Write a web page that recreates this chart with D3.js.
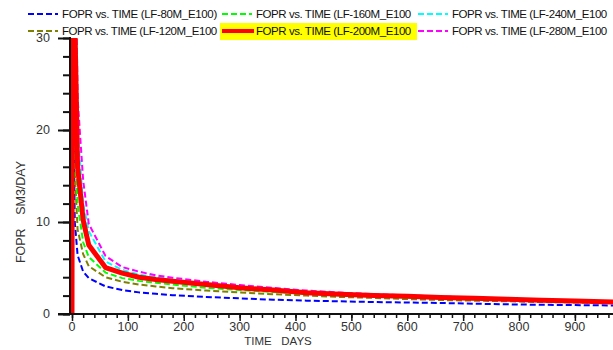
<!DOCTYPE html>
<html>
<head>
<meta charset="utf-8">
<script src="https://cdn.jsdelivr.net/npm/d3@7"></script>
<style>
  body { margin: 0; background: #fff; }
  svg { display: block; font-family: "Liberation Sans", Arial, sans-serif; }
</style>
</head>
<body>
<svg id="chart" width="613" height="350"></svg>
<script>
// time in days
var times = [0, 1, 5, 10, 20, 30, 60, 90, 120, 150, 180, 240, 300, 360, 420, 480, 540, 600, 660, 720, 780, 840, 900, 970];

// FOPR values per case (SM3/DAY)
var lf80  = [0, 30, 10, 6.4, 4.6, 3.9, 3.0, 2.6, 2.35, 2.2, 2.05, 1.85, 1.7, 1.55, 1.45, 1.38, 1.3, 1.25, 1.2, 1.12, 1.05, 1.0, 0.97, 0.93];
var lf120 = [0, 40, 15.5, 9.2, 6.5, 5.2, 4.0, 3.5, 3.2, 3.0, 2.8, 2.55, 2.35, 2.15, 2.0, 1.85, 1.75, 1.62, 1.52, 1.45, 1.38, 1.3, 1.25, 1.2];
var lf160 = [0, 45, 19, 12, 7.8, 6.2, 4.5, 3.9, 3.6, 3.4, 3.2, 2.85, 2.6, 2.4, 2.2, 2.05, 1.9, 1.78, 1.68, 1.58, 1.5, 1.42, 1.35, 1.28];
var lf200 = [0, 60, 32, 16, 10.2, 7.5, 5.05, 4.45, 4.0, 3.75, 3.55, 3.2, 2.85, 2.6, 2.3, 2.15, 2.02, 1.92, 1.8, 1.7, 1.6, 1.5, 1.42, 1.3];
var lf240 = [0, 70, 40, 20, 12, 9.0, 5.7, 4.8, 4.3, 4.0, 3.75, 3.35, 3.0, 2.72, 2.45, 2.25, 2.1, 1.98, 1.85, 1.74, 1.63, 1.53, 1.45, 1.35];
var lf280 = [0, 80, 45, 23.5, 14.5, 9.8, 6.3, 5.1, 4.6, 4.2, 3.95, 3.5, 3.15, 2.85, 2.55, 2.33, 2.15, 2.02, 1.9, 1.78, 1.67, 1.56, 1.47, 1.37];

// legend labels as they appear (long names get cut at the column edge)
var legendNames = ["FOPR vs. TIME (LF-80M_E100)", "FOPR vs. TIME (LF-120M_E100", "FOPR vs. TIME (LF-160M_E100",
                   "FOPR vs. TIME (LF-240M_E100", "FOPR vs. TIME (LF-280M_E100", "FOPR vs. TIME (LF-200M_E100"];

var xTicks = [0, 100, 200, 300, 400, 500, 600, 700, 800, 900];
var yTicks = [0, 10, 20, 30];

var svg = d3.select("#chart");

var x = d3.scaleLinear().domain([0, 970]).range([72, 614]);
var y = d3.scaleLinear().domain([0, 30]).range([314, 38]);

// series in draw order, red (highlighted) last
var series = [
  {vals: lf80,  color: "#0000ff", dash: "6,3", w: 2, col: 0, row: 0},
  {vals: lf120, color: "#808000", dash: "6,3", w: 2, col: 0, row: 1},
  {vals: lf160, color: "#00ff00", dash: "6,3", w: 2, col: 1, row: 0},
  {vals: lf240, color: "#00ffff", dash: "6,3", w: 2, col: 2, row: 0},
  {vals: lf280, color: "#ff00ff", dash: "6,3", w: 2, col: 2, row: 1},
  {vals: lf200, color: "#ff0000", dash: null,  w: 5, col: 1, row: 1}
];

svg.append("clipPath").attr("id", "plotclip")
  .append("rect").attr("x", 60).attr("y", 38).attr("width", 560).attr("height", 280);

var line = d3.line()
  .x(function(d) { return x(d[0]); })
  .y(function(d) { return y(d[1]); });

var plot = svg.append("g").attr("clip-path", "url(#plotclip)");
series.forEach(function(s) {
  var pts = times.map(function(t, i) { return [t, s.vals[i]]; });
  plot.append("path")
    .attr("d", line(pts))
    .attr("fill", "none")
    .attr("stroke", s.color)
    .attr("stroke-width", s.w)
    .attr("stroke-dasharray", s.dash)
    .attr("stroke-linejoin", "round");
});

// axes
var axisCol = "#111";
var yAxis = svg.append("g").attr("transform", "translate(70,0)");
yAxis.call(d3.axisLeft(y).tickValues(d3.range(0, 31, 2)).tickSize(7).tickFormat(""));
yAxis.append("g").call(d3.axisLeft(y).tickValues(yTicks).tickSize(12).tickFormat(""));
yAxis.selectAll(".domain").remove();
yAxis.selectAll("line").attr("stroke", axisCol).attr("stroke-width", 2);
yAxis.append("line").attr("x1", 0).attr("x2", 0).attr("y1", y(30) - 1).attr("y2", y(0) + 1)
  .attr("stroke", axisCol).attr("stroke-width", 2);

svg.append("g").selectAll("text").data(yTicks).enter().append("text")
  .attr("x", 50).attr("y", function(d) { return y(d) + 4; })
  .attr("text-anchor", "end").attr("font-size", 12.5).attr("fill", "#333")
  .text(function(d) { return d; });

var xAxis = svg.append("g").attr("transform", "translate(0,314)");
xAxis.call(d3.axisBottom(x).tickValues(d3.range(0, 961, 20)).tickSize(4).tickFormat(""));
xAxis.append("g").call(d3.axisBottom(x).tickValues(xTicks).tickSize(7).tickFormat(""));
xAxis.selectAll(".domain").remove();
xAxis.selectAll("line").attr("stroke", axisCol).attr("stroke-width", 1.5);
xAxis.append("line").attr("x1", 58).attr("x2", 613).attr("y1", 0).attr("y2", 0)
  .attr("stroke", axisCol).attr("stroke-width", 2);

svg.append("g").selectAll("text").data(xTicks).enter().append("text")
  .attr("x", function(d) { return x(d); }).attr("y", 331)
  .attr("text-anchor", "middle").attr("font-size", 12.5).attr("fill", "#333")
  .text(function(d) { return d; });

svg.append("text").attr("x", 278).attr("y", 345).attr("text-anchor", "middle")
  .attr("font-size", 11.5).attr("fill", "#333").style("white-space", "pre")
  .text("TIME   DAYS");

svg.append("text").attr("transform", "translate(25,212) rotate(-90)").attr("text-anchor", "middle")
  .attr("font-size", 12.5).attr("fill", "#333").style("white-space", "pre")
  .attr("textLength", 102).attr("lengthAdjust", "spacing")
  .text("FOPR    SM3/DAY");

// legend
var colX = [26, 220, 416];
var rowY = [14, 31];
svg.append("rect").attr("x", 220).attr("y", 23).attr("width", 197).attr("height", 17).attr("fill", "#ffff00");

var leg = svg.append("g");
series.forEach(function(s, i) {
  var cx = colX[s.col], cy = rowY[s.row];
  leg.append("line").attr("x1", cx + 2).attr("x2", cx + (s.dash ? 32 : 34)).attr("y1", cy).attr("y2", cy)
    .attr("stroke", s.color).attr("stroke-width", s.dash ? 2 : 4)
    .attr("stroke-dasharray", s.dash);
  leg.append("text").attr("x", cx + 36).attr("y", cy + 4)
    .attr("font-size", 11.5).attr("fill", "#111")
    .attr("textLength", legendNames[i].length * 5.75).attr("lengthAdjust", "spacing")
    .text(legendNames[i]);
});
</script>
</body>
</html>
